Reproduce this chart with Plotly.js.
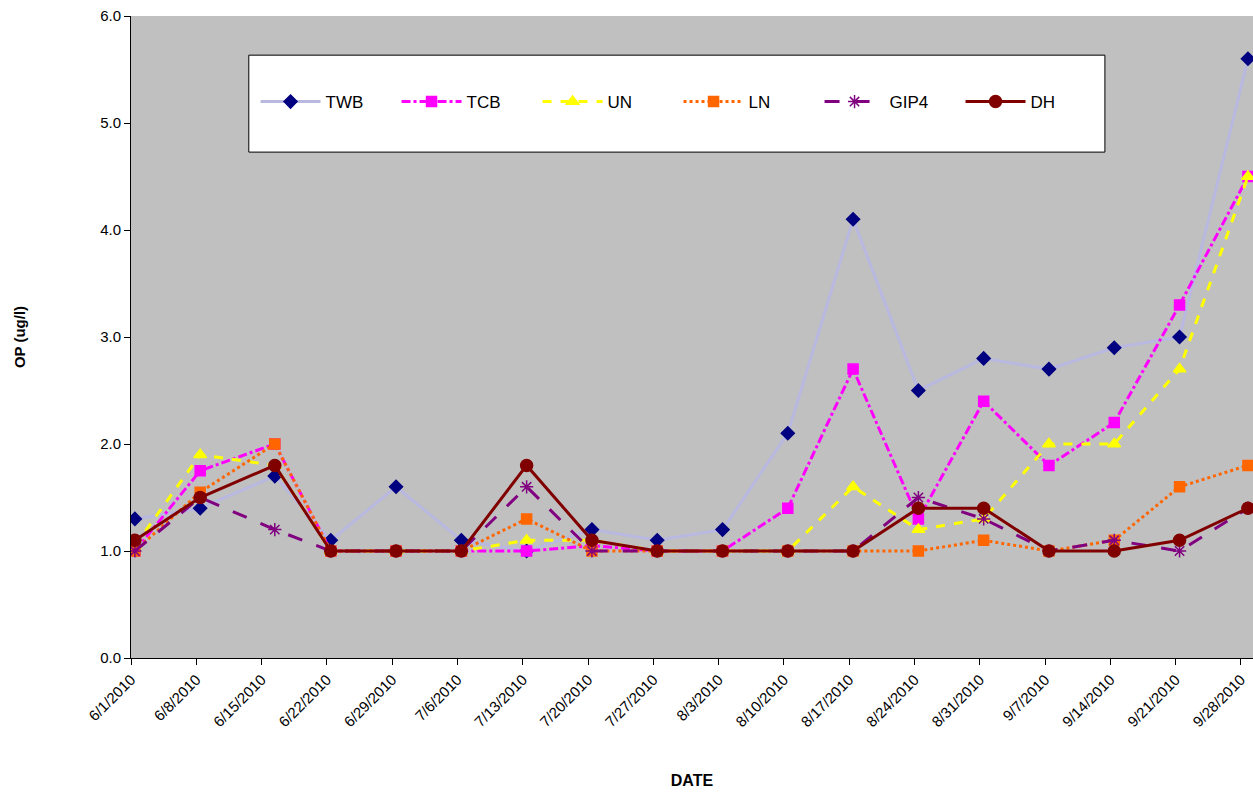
<!DOCTYPE html>
<html>
<head>
<script src="https://cdn.plot.ly/plotly-3.0.1.min.js"></script>
<style>body{margin:0;background:#fff}</style>
</head>
<body>
<div id="chart" style="width:1253px;height:795px"></div>
<script>
var dates = ['2010-06-01 10:00','2010-06-08 10:00','2010-06-16 10:00','2010-06-22 10:00','2010-06-29 10:00','2010-07-06 10:00','2010-07-13 10:00','2010-07-20 10:00','2010-07-27 10:00','2010-08-03 10:00','2010-08-10 10:00','2010-08-17 10:00','2010-08-24 10:00','2010-08-31 10:00','2010-09-07 10:00','2010-09-14 10:00','2010-09-21 10:00','2010-09-28 18:00'];
var tickDates = ['2010-06-01','2010-06-08','2010-06-15','2010-06-22','2010-06-29','2010-07-06','2010-07-13','2010-07-20','2010-07-27','2010-08-03','2010-08-10','2010-08-17','2010-08-24','2010-08-31','2010-09-07','2010-09-14','2010-09-21','2010-09-28'];
var tickLabels = ['6/1/2010','6/8/2010','6/15/2010','6/22/2010','6/29/2010','7/6/2010','7/13/2010','7/20/2010','7/27/2010','8/3/2010','8/10/2010','8/17/2010','8/24/2010','8/31/2010','9/7/2010','9/14/2010','9/21/2010','9/28/2010'];

var twb  = [1.3,1.4,1.7,1.1,1.6,1.1,1.0,1.2,1.1,1.2,2.1,4.1,2.5,2.8,2.7,2.9,3.0,5.6];
var tcb  = [1.0,1.75,2.0,1.0,1.0,1.0,1.0,1.05,1.0,1.0,1.4,2.7,1.3,2.4,1.8,2.2,3.3,4.5];
var un   = [1.05,1.9,1.8,1.0,1.0,1.0,1.1,1.1,1.0,1.0,1.0,1.6,1.2,1.3,2.0,2.0,2.7,4.5];
var ln   = [1.0,1.55,2.0,1.0,1.0,1.0,1.3,1.0,1.0,1.0,1.0,1.0,1.0,1.1,1.0,1.1,1.6,1.8];
var gip4 = [1.0,1.5,1.2,1.0,1.0,1.0,1.6,1.0,1.0,1.0,1.0,1.0,1.5,1.3,1.0,1.1,1.0,1.4];
var dh   = [1.1,1.5,1.8,1.0,1.0,1.0,1.8,1.1,1.0,1.0,1.0,1.0,1.4,1.4,1.0,1.0,1.1,1.4];

function series(name, y, lineColor, dash, width, symbol, markerColor, size)
{
    return {
        name: name,
        x: dates,
        y: y,
        mode: 'lines+markers',
        line: {color: lineColor, dash: dash, width: width},
        marker: {symbol: symbol, color: markerColor, size: size, line: {color: markerColor, width: 1.5}}
    };
}

var data =
[
    series('TWB', twb, '#b8b8e0', 'solid', 3, 'diamond', '#000080', 10),
    series('TCB', tcb, '#ff00ff', 'dashdot', 3, 'square', '#ff00ff', 10),
    series('UN', un, '#ffff00', 'dash', 3, 'triangle-up', '#ffff00', 11),
    series('LN', ln, '#ff6600', 'dot', 3, 'square', '#ff6600', 10),
    series('GIP4', gip4, '#800080', 'longdash', 3, 'asterisk-open', '#800080', 11),
    series('DH', dh, '#800000', 'solid', 3, 'circle', '#800000', 12)
];

var layout =
{
    width: 1253,
    height: 795,
    paper_bgcolor: '#ffffff',
    plot_bgcolor: '#c0c0c0',
    font: {family: 'Liberation Sans, Arial', size: 15, color: '#000'},
    margin: {l: 131, r: 0, t: 16, b: 137},
    xaxis:
    {
        type: 'date',
        range: ['2010-06-01', '2010-09-29 07:00'],
        tickvals: tickDates,
        ticktext: tickLabels,
        tickangle: -45,
        ticks: 'outside',
        ticklen: 6,
        tickcolor: '#000',
        showgrid: false,
        showline: true,
        linecolor: '#000',
        zeroline: false,
        title: {text: '<b>DATE</b>', font: {size: 16}, standoff: 45}
    },
    yaxis:
    {
        range: [0, 6],
        dtick: 1,
        tickformat: '.1f',
        ticks: 'outside',
        ticklen: 6,
        tickcolor: '#000',
        showgrid: false,
        showline: true,
        linecolor: '#000',
        zeroline: false,
        title: {text: '<b>OP (ug/l)</b>', font: {size: 15}, standoff: 70}
    },
    // white box behind the legend, taller than the legend itself
    shapes:
    [
        {
            type: 'rect',
            xref: 'paper',
            yref: 'paper',
            x0: 0.105,
            x1: 0.868,
            y0: 0.788,
            y1: 0.939,
            fillcolor: '#ffffff',
            line: {color: '#000', width: 1}
        }
    ],
    showlegend: true,
    legend:
    {
        orientation: 'h',
        x: 0.111,
        y: 0.866,
        xanchor: 'left',
        yanchor: 'middle',
        bgcolor: 'rgba(0,0,0,0)',
        borderwidth: 0,
        entrywidth: 66,
        itemwidth: 60,
        font: {size: 17}
    }
};

Plotly.newPlot('chart', data, layout, {displayModeBar: false});
</script>
</body>
</html>
